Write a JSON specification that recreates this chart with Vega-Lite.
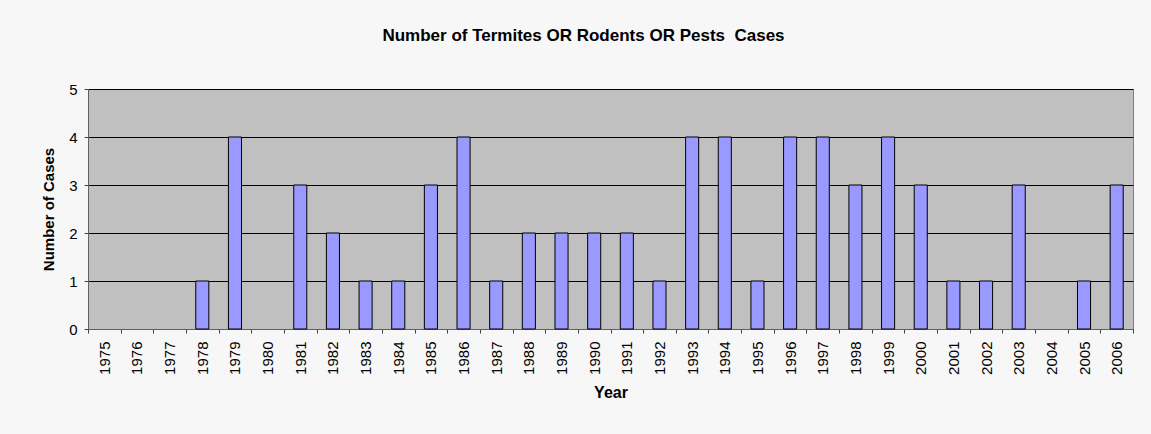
{
  "$schema": "https://vega.github.io/schema/vega-lite/v6.json",
  "width": 1045,
  "height": 240,
  "autosize": "none",
  "padding": {"left": 88, "top": 89, "right": 18, "bottom": 105},
  "background": "#F7F7F7",
  "title": {
    "text": "Number of Termites OR Rodents OR Pests\u00a0 Cases",
    "font": "Liberation Sans",
    "fontSize": 17,
    "fontWeight": "bold",
    "color": "#000000",
    "anchor": "middle",
    "dx": -27,
    "offset": 37
  },
  "data": {
    "values": [
      {"year": "1975", "cases": 0},
      {"year": "1976", "cases": 0},
      {"year": "1977", "cases": 0},
      {"year": "1978", "cases": 1},
      {"year": "1979", "cases": 4},
      {"year": "1980", "cases": 0},
      {"year": "1981", "cases": 3},
      {"year": "1982", "cases": 2},
      {"year": "1983", "cases": 1},
      {"year": "1984", "cases": 1},
      {"year": "1985", "cases": 3},
      {"year": "1986", "cases": 4},
      {"year": "1987", "cases": 1},
      {"year": "1988", "cases": 2},
      {"year": "1989", "cases": 2},
      {"year": "1990", "cases": 2},
      {"year": "1991", "cases": 2},
      {"year": "1992", "cases": 1},
      {"year": "1993", "cases": 4},
      {"year": "1994", "cases": 4},
      {"year": "1995", "cases": 1},
      {"year": "1996", "cases": 4},
      {"year": "1997", "cases": 4},
      {"year": "1998", "cases": 3},
      {"year": "1999", "cases": 4},
      {"year": "2000", "cases": 3},
      {"year": "2001", "cases": 1},
      {"year": "2002", "cases": 1},
      {"year": "2003", "cases": 3},
      {"year": "2004", "cases": 0},
      {"year": "2005", "cases": 1},
      {"year": "2006", "cases": 3}
    ]
  },
  "mark": {
    "type": "bar",
    "width": {"band": 0.4},
    "fill": "#9999FF",
    "stroke": "#000000",
    "strokeWidth": 1
  },
  "encoding": {
    "x": {
      "field": "year",
      "type": "ordinal",
      "scale": {"paddingInner": 0, "paddingOuter": 0},
      "axis": {
        "title": "Year",
        "labelAngle": -90,
        "labelAlign": "right",
        "labelBaseline": "middle",
        "labelPadding": 8,
        "tickBand": "extent",
        "tickSize": 4,
        "titlePadding": 10,
        "titleFontSize": 16
      }
    },
    "y": {
      "field": "cases",
      "type": "quantitative",
      "scale": {"domain": [0, 5], "nice": false},
      "axis": {
        "title": "Number of Cases",
        "values": [0, 1, 2, 3, 4, 5],
        "format": "d",
        "grid": true,
        "gridColor": "#000000",
        "gridWidth": 1,
        "gridOpacity": 1,
        "tickSize": 4,
        "labelPadding": 7,
        "titlePadding": 12
      }
    },
    "strokeOpacity": {
      "condition": {"test": "datum.cases == 0", "value": 0},
      "value": 1
    }
  },
  "config": {
    "view": {"fill": "#C0C0C0", "stroke": "#808080", "strokeWidth": 1},
    "axis": {
      "labelFont": "Liberation Sans",
      "labelFontSize": 15,
      "labelColor": "#000000",
      "titleFont": "Liberation Sans",
      "titleFontSize": 15,
      "titleFontWeight": "bold",
      "titleColor": "#000000",
      "domainColor": "#606060",
      "tickColor": "#404040",
      "domainWidth": 1,
      "tickWidth": 1
    }
  }
}
